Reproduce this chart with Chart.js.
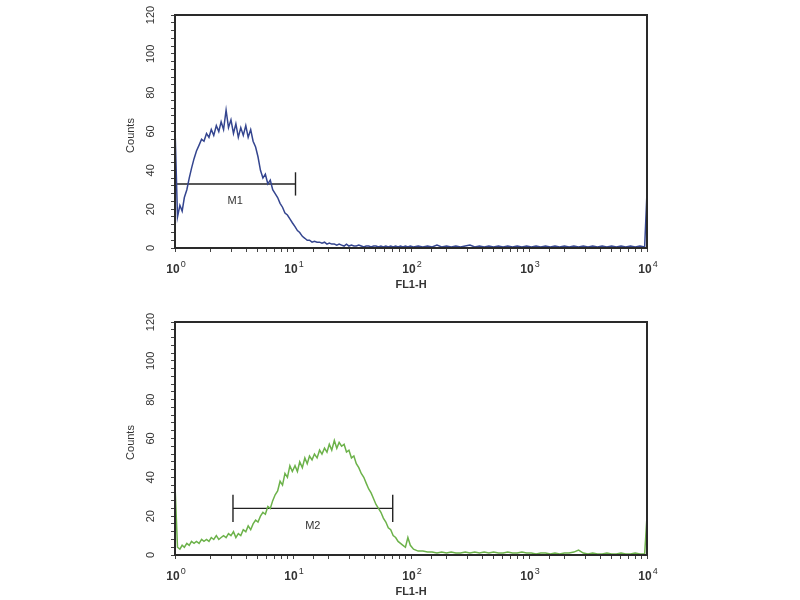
<!DOCTYPE html>
<html>
<head>
<meta charset="utf-8">
<script src="https://cdn.jsdelivr.net/npm/chart.js@4.4.1/dist/chart.umd.min.js"></script>
<style>
  html, body { margin: 0; padding: 0; background: #fff; }
  #wrap { position: relative; width: 800px; height: 600px; }
  canvas { position: absolute; left: 0; }
</style>
</head>
<body>
<div id="wrap">
  <canvas id="topChart" width="800" height="300" style="top:0"></canvas>
  <canvas id="bottomChart" width="800" height="300" style="top:300px"></canvas>
</div>
<script>
// FL1-H channel positions (log scale, 10^0 .. 10^4)
const channels = [
  1, 1.05, 1.1, 1.15, 1.2, 1.26, 1.32, 1.38, 1.45, 1.52,
  1.6, 1.68, 1.76, 1.85, 1.94, 2.03, 2.13, 2.24, 2.35, 2.46,
  2.58, 2.71, 2.84, 2.98, 3.13, 3.28, 3.44, 3.61, 3.79, 3.98,
  4.17, 4.38, 4.59, 4.82, 5.05, 5.3, 5.56, 5.83, 6.12, 6.42,
  6.73, 7.06, 7.41, 7.77, 8.15, 8.55, 8.97, 9.41, 9.87,
  10.4, 10.9, 11.4, 12.0, 12.6, 13.2, 13.8, 14.5, 15.2, 16.0,
  16.8, 17.6, 18.5, 19.4, 20.3, 21.3, 22.4, 23.5, 24.6, 25.8,
  27.1, 28.4, 29.8, 31.3, 32.8, 34.4, 36.1, 37.9, 39.8, 41.7,
  43.8, 45.9, 48.2, 50.5, 53.0, 55.6, 58.3, 61.2, 64.2, 67.3,
  70.6, 74.1, 77.7, 81.5, 85.5, 89.7, 94.1, 98.7,
  105, 115, 126, 138, 151, 166, 182, 200, 219, 240,
  263, 288, 316, 347, 380, 417, 457, 501, 550, 603,
  661, 724, 794, 871, 955, 1047, 1148, 1259, 1380, 1514,
  1660, 1820, 1995, 2188, 2399, 2630, 2884, 3162, 3467, 3802,
  4169, 4571, 5012, 5495, 6026, 6607, 7244, 7943, 8710, 9550,
  10000
];

const blueCounts = [
  62, 16, 22, 19, 26, 30, 36, 41, 46, 50,
  53, 56, 55, 59, 57, 61, 58, 63, 60, 65,
  61, 71, 62, 66, 59, 64, 57, 62, 58, 63,
  57, 61, 55, 52, 47, 40, 36, 38, 33, 35,
  30, 28, 26, 23, 21, 18, 17, 15, 13,
  11, 9, 8, 6, 5, 4, 4, 3, 3.5, 3,
  3, 2.5, 3, 2, 2.5, 2, 2, 1.5, 2, 1.5,
  1, 2, 1, 1.5, 1, 1, 1.5, 1, 0.5, 1,
  1, 0.5, 1, 1, 0.5, 1, 0.5, 1, 0.5, 1,
  0.5, 1, 0.5, 1, 0.5, 1, 0.5, 1,
  0.5, 1, 0.5, 1, 0.5, 1.5, 0.5, 1, 0.5, 1,
  0.5, 1, 1.5, 0.5, 1, 0.5, 1, 0.5, 1, 0.5,
  1, 0.5, 1, 0.5, 1, 0.5, 1, 0.5, 1, 0.5,
  1, 0.5, 1, 0.5, 1, 0.5, 1, 0.5, 1, 0.5,
  1, 0.5, 1, 0.5, 1, 0.5, 1, 0.5, 1, 0.5,
  29
];

const greenCounts = [
  36, 4, 3, 5, 4, 6, 5, 7, 6, 7,
  6, 8, 7, 8, 7, 9, 8, 10, 8, 9,
  10, 9, 11, 10, 12, 9, 11, 10, 13, 12,
  15, 13, 16, 18, 17, 20, 22, 21, 25, 24,
  28, 31, 33, 38, 36, 42, 40, 46, 43,
  46, 43, 48, 45, 50, 47, 51, 49, 52, 50,
  54, 52, 55, 53, 57, 54, 59, 55, 58, 56,
  57, 53, 54, 50, 51, 47, 45, 42, 40, 37,
  34, 32, 29, 26, 24, 22, 19, 17, 14, 13,
  10, 9, 7, 6, 5, 4, 9, 5,
  3, 2, 2, 1.5, 1.5, 1, 1.5, 1, 1.5, 1,
  1, 1.5, 1, 1.5, 1, 1.5, 1, 1.5, 1, 1,
  1.5, 1, 1, 1.5, 1, 1, 0.5, 1, 1, 0.5,
  1, 0.5, 1, 1, 1.5, 2.5, 1, 0.5, 1, 0.5,
  0.5, 1, 0.5, 0.5, 1, 0.5, 0.5, 1, 0.5, 0.5,
  20
];

// axis ticks
const yTickLabels = [0, 20, 40, 60, 80, 100, 120];
const xDecades = [1, 10, 100, 1000, 10000];
const xExponents = ["0", "1", "2", "3", "4"];

// gates
const m1Range = [1, 10.5];
const m1Level = 33;
const m2Range = [3.1, 70];
const m2Level = 24;

const FONT = '"Liberation Sans", Arial, sans-serif';

const flowAxes = {
  id: "flowAxes",
  afterDraw(chart, args, opts) {
    const ctx = chart.ctx;
    const a = chart.chartArea;
    const xs = chart.scales.x;
    const ys = chart.scales.y;
    ctx.save();
    // frame
    ctx.strokeStyle = "#2a2a2a";
    ctx.lineWidth = 2;
    ctx.strokeRect(a.left, a.top, a.right - a.left, a.bottom - a.top);

    ctx.fillStyle = "#333";
    // y labels, rotated
    ctx.font = "11px " + FONT;
    ctx.textAlign = "center";
    ctx.textBaseline = "middle";
    yTickLabels.forEach(v => {
      const py = ys.getPixelForValue(v);
      ctx.save();
      ctx.translate(a.left - 24, py);
      ctx.rotate(-Math.PI / 2);
      ctx.fillText(String(v), 0, 0);
      ctx.restore();
    });
    // y title
    ctx.save();
    ctx.translate(a.left - 44, (a.top + a.bottom) / 2 + 4);
    ctx.rotate(-Math.PI / 2);
    ctx.font = "11px " + FONT;
    ctx.fillText("Counts", 0, 0);
    ctx.restore();

    // x labels 10^n
    xDecades.forEach((v, i) => {
      const px = xs.getPixelForValue(v);
      ctx.font = "bold 12px " + FONT;
      const w = ctx.measureText("10").width;
      ctx.textAlign = "left";
      ctx.textBaseline = "alphabetic";
      ctx.fillText("10", px - w / 2 - 2, a.bottom + 25);
      ctx.font = "9px " + FONT;
      ctx.fillText(xExponents[i], px + w / 2 - 1, a.bottom + 19);
    });
    // x title
    ctx.font = "bold 11px " + FONT;
    ctx.textAlign = "center";
    ctx.fillText("FL1-H", xs.getPixelForValue(100), a.bottom + 40);

    // gate label
    if (opts.gate) {
      const g = opts.gate;
      ctx.font = "11px " + FONT;
      ctx.textBaseline = "middle";
      ctx.fillText(g.label, xs.getPixelForValue(Math.sqrt(g.range[0] * g.range[1])),
        ys.getPixelForValue(g.level - 9));
    }
    ctx.restore();
  }
};

function toPoints(xv, yv) {
  return xv.map((x, i) => ({ x: x, y: yv[i] }));
}

function gateDatasets(range, level, half) {
  const style = { borderColor: "#222", borderWidth: 1.4, pointRadius: 0, showLine: true, clip: false };
  return [
    Object.assign({ data: [{ x: range[0], y: level }, { x: range[1], y: level }] }, style),
    Object.assign({ data: [{ x: range[0], y: level - half }, { x: range[0], y: level + half }] }, style),
    Object.assign({ data: [{ x: range[1], y: level - half }, { x: range[1], y: level + half }] }, style)
  ];
}

function makeChart(id, counts, color, gate, padTop, padBottom) {
  return new Chart(document.getElementById(id), {
    type: "scatter",
    data: {
      datasets: [
        { data: toPoints(channels, counts), borderColor: color, borderWidth: 1.5, pointRadius: 0, showLine: true, tension: 0 },
        ...gateDatasets(gate.range, gate.level, gate.half)
      ]
    },
    options: {
      responsive: false,
      animation: false,
      layout: { padding: { left: 165, right: 153, top: padTop, bottom: padBottom } },
      plugins: {
        legend: { display: false },
        tooltip: { enabled: false },
        flowAxes: { gate: gate }
      },
      scales: {
        x: {
          type: "logarithmic",
          min: 1,
          max: 10000,
          afterFit(s) { s.height = 10; },
          border: { display: true, color: "#2a2a2a", width: 2 },
          grid: { drawOnChartArea: false, drawTicks: true, tickLength: 4, color: "#444" },
          ticks: { display: false, autoSkip: false }
        },
        y: {
          min: 0,
          max: 120,
          afterFit(s) { s.width = 10; },
          border: { display: true, color: "#2a2a2a", width: 2 },
          grid: { drawOnChartArea: false, drawTicks: true, tickLength: 4, color: "#444" },
          ticks: { display: false, stepSize: 4, autoSkip: false }
        }
      }
    },
    plugins: [flowAxes]
  });
}

makeChart("topChart", blueCounts, "#34458f", { label: "M1", range: m1Range, level: m1Level, half: 6 }, 15, 42);
makeChart("bottomChart", greenCounts, "#6cb24a", { label: "M2", range: m2Range, level: m2Level, half: 7 }, 22, 35);
</script>
</body>
</html>
